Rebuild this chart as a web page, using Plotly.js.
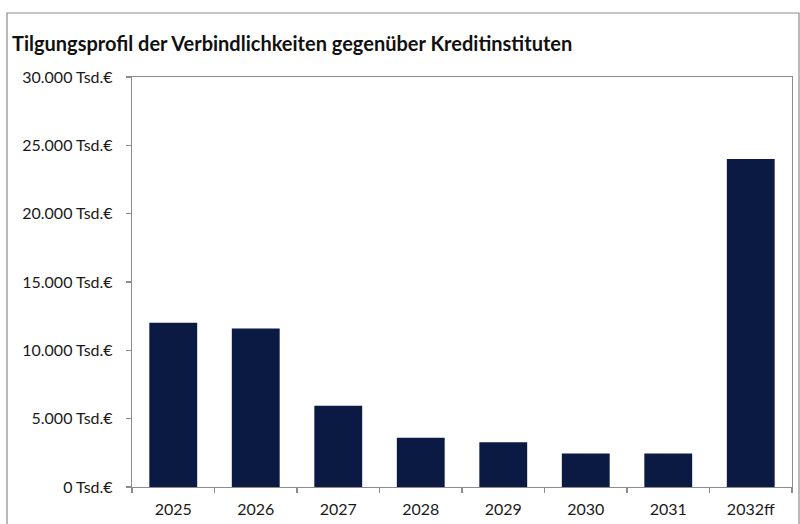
<!DOCTYPE html>
<html>
<head>
<meta charset="utf-8">
<script src="https://cdn.plot.ly/plotly-3.0.1.min.js"></script>
<style>html,body{margin:0;padding:0;background:#fff;}#chart{width:800px;height:524px;}</style>
</head>
<body>
<div id="chart"></div>
<script>
const categories = ["2025", "2026", "2027", "2028", "2029", "2030", "2031", "2032ff"];
const values = [12020, 11590, 5950, 3610, 3270, 2460, 2460, 24000];
const yTickValues = [0, 5000, 10000, 15000, 20000, 25000, 30000];
const yTickLabels = ["0 Tsd.€", "5.000 Tsd.€", "10.000 Tsd.€", "15.000 Tsd.€", "20.000 Tsd.€", "25.000 Tsd.€", "30.000 Tsd.€"];
const chartTitle = "Tilgungsprofil der Verbindlichkeiten gegenüber Kreditinstituten";

const font = "Lato, 'Open Sans', sans-serif";
const trace = {
  type: "bar",
  x: categories,
  y: values,
  marker: { color: "#0b1a43", line: { width: 0 } },
  hoverinfo: "x+y"
};
const layout = {
  width: 800, height: 524,
  margin: { l: 132, r: 8, t: 77, b: 37, pad: 0 },
  paper_bgcolor: "#ffffff",
  plot_bgcolor: "#ffffff",
  bargap: 0.42,
  showlegend: false,
  font: { family: font, color: "#1a1a1a", size: 16 },
  title: {
    text: "<b>" + chartTitle + "</b>",
    x: 12 / 800, xanchor: "left", xref: "container",
    y: 1 - 44 / 524, yanchor: "middle", yref: "container",
    font: { family: font, size: 20, color: "#111111" }
  },
  xaxis: {
    type: "category",
    showgrid: false,
    showline: true, linecolor: "#8c8c8c", linewidth: 1.2,
    mirror: true,
    ticks: "outside", ticklen: 5, tickcolor: "#8c8c8c", tickwidth: 1.2,
    tickson: "boundaries",
    ticklabelstandoff: 8,
    tickfont: { family: font, size: 16, color: "#1a1a1a" },
    fixedrange: true
  },
  yaxis: {
    range: [0, 30000],
    tickvals: yTickValues,
    ticktext: yTickLabels,
    showgrid: false, zeroline: false,
    showline: true, linecolor: "#8c8c8c", linewidth: 1.2,
    mirror: true,
    ticks: "outside", ticklen: 5, tickcolor: "#8c8c8c", tickwidth: 1.2,
    ticklabelstandoff: 10,
    tickfont: { family: font, size: 16, color: "#1a1a1a" },
    fixedrange: true
  },
  shapes: [{
    type: "rect", xref: "paper", yref: "paper",
    x0: (7 - 132) / 660, x1: (799 - 132) / 660,
    y0: -0.2, y1: (487 - 13) / 410,
    line: { color: "#8c8c8c", width: 1.2 },
    fillcolor: "rgba(0,0,0,0)",
    layer: "below"
  }]
};
Plotly.newPlot("chart", [trace], layout, { displayModeBar: false, staticPlot: true });
</script>
</body>
</html>
